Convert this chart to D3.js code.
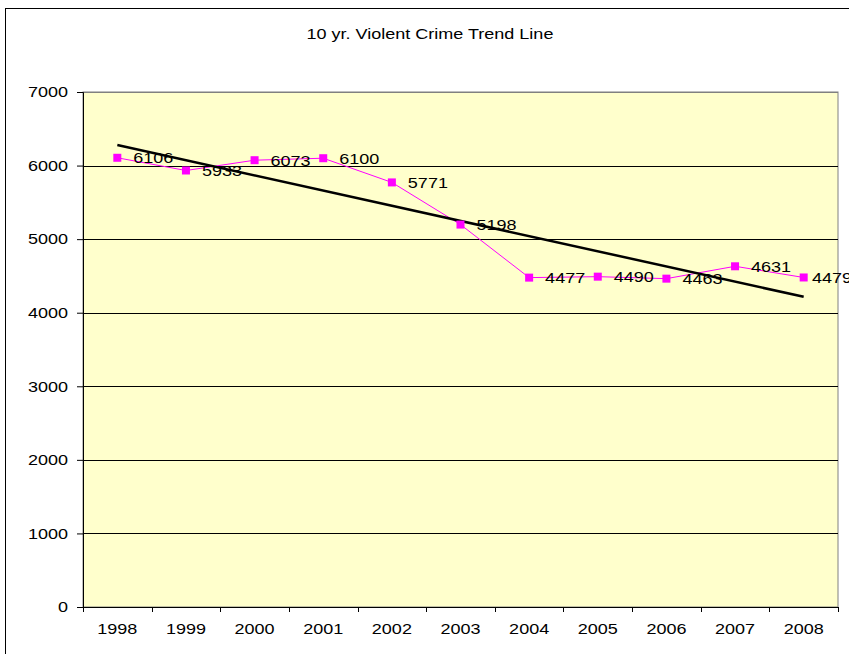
<!doctype html>
<html lang="en">
<head>
<meta charset="utf-8">
<title>10 yr. Violent Crime Trend Line</title>
<script src="https://cdn.jsdelivr.net/npm/d3@7"></script>
<style>
  body { margin: 0; background: #fff; }
  text { font-family: "Liberation Sans", Arial, sans-serif; fill: #000; font-size: 15px; }
  .tick text { font-size: 15px; }
  .domain { stroke: #000; }
  .tick line { stroke: #000; }
</style>
</head>
<body>
<div id="viz"></div>
<script>
// data
var years = ["1998", "1999", "2000", "2001", "2002", "2003", "2004", "2005", "2006", "2007", "2008"];
var crimes = [6106, 5933, 6073, 6100, 5771, 5198, 4477, 4490, 4463, 4631, 4479];
var yTicks = [0, 1000, 2000, 3000, 4000, 5000, 6000, 7000];

var w = 849, h = 654;
var margin = {top: 92, right: 11, bottom: 47, left: 83};
var width = w - margin.left - margin.right,
    height = h - margin.top - margin.bottom;

// the original font is rendered wider than Liberation Sans
function widen(sel) {
  sel.each(function() {
    var len = this.getComputedTextLength();
    d3.select(this)
      .attr("textLength", len * 1.2)
      .attr("lengthAdjust", "spacingAndGlyphs");
  });
}

var svg = d3.select("#viz").append("svg")
  .attr("width", w)
  .attr("height", h);

// outer chart border
svg.append("rect")
  .attr("x", 5.5).attr("y", 8.5)
  .attr("width", w + 10).attr("height", h + 10)
  .attr("fill", "#fff")
  .attr("stroke", "#000")
  .attr("stroke-width", 1);

svg.append("text")
  .attr("x", 430).attr("y", 39)
  .attr("text-anchor", "middle")
  .text("10 yr. Violent Crime Trend Line")
  .call(widen);

var g = svg.append("g")
  .attr("transform", "translate(" + margin.left + "," + margin.top + ")");

// SCALES
var xScale = d3.scaleBand().domain(years).range([0, width]);
var yScale = d3.scaleLinear().domain([0, 7000]).range([height, 0]);

// plot area
g.append("rect")
  .attr("width", width).attr("height", height)
  .attr("fill", "#FFFFCC")
  .attr("stroke", "#808080");

// grid
g.selectAll("line.grid")
  .data(yTicks.slice(1))
  .enter().append("line")
  .attr("class", "grid")
  .attr("x1", 0).attr("x2", width)
  .attr("y1", function(d) { return Math.round(yScale(d)) + 0.5; })
  .attr("y2", function(d) { return Math.round(yScale(d)) + 0.5; })
  .attr("stroke", function(d) { return d === 7000 ? "#808080" : "#000"; });

// AXES
var yAxis = d3.axisLeft(yScale).tickValues(yTicks).tickSize(6).tickPadding(9).tickFormat(d3.format("d"));
var yAxisG = g.append("g").call(yAxis);
yAxisG.selectAll(".tick text").call(widen);

var xAxisG = g.append("g")
  .attr("transform", "translate(0," + height + ")")
  .call(d3.axisBottom(xScale).tickSize(0));
xAxisG.select(".domain").remove();
xAxisG.selectAll(".tick text")
  .attr("y", 27).attr("dy", null)
  .call(widen);
g.append("line")
  .attr("x1", 0).attr("x2", width)
  .attr("y1", height + 0.5).attr("y2", height + 0.5)
  .attr("stroke", "#000");
// category boundary ticks
xAxisG.selectAll("line.bound")
  .data(years.concat(["end"]))
  .enter().append("line")
  .attr("class", "bound")
  .attr("x1", function(d, i) { return Math.round(i * xScale.step()) + 0.5; })
  .attr("x2", function(d, i) { return Math.round(i * xScale.step()) + 0.5; })
  .attr("y1", 0).attr("y2", 5)
  .attr("stroke", "#000");

var cx = function(d, i) { return xScale(years[i]) + xScale.bandwidth() / 2; };

// data line
var line = d3.line()
  .x(function(d, i) { return cx(d, i); })
  .y(function(d) { return yScale(d); });

g.append("path")
  .datum(crimes)
  .attr("d", line)
  .attr("fill", "none")
  .attr("stroke", "#FF00FF")
  .attr("stroke-width", 1);

// linear trend (least squares of the data)
var xs = d3.range(crimes.length);
var mx = d3.mean(xs), my = d3.mean(crimes);
var slope = d3.sum(xs, function(x, i) { return (x - mx) * (crimes[i] - my); }) /
            d3.sum(xs, function(x) { return (x - mx) * (x - mx); });
var icept = my - slope * mx;
var last = crimes.length - 1;

g.append("line")
  .attr("x1", cx(null, 0)).attr("y1", yScale(icept))
  .attr("x2", cx(null, last)).attr("y2", yScale(icept + slope * last))
  .attr("stroke", "#000")
  .attr("stroke-width", 2.5);

// markers
g.selectAll("rect.mark")
  .data(crimes)
  .enter().append("rect")
  .attr("class", "mark")
  .attr("x", function(d, i) { return cx(d, i) - 4; })
  .attr("y", function(d) { return yScale(d) - 4; })
  .attr("width", 8).attr("height", 8)
  .attr("fill", "#FF00FF");

// value labels, pushed left when they would run past the chart edge
var labelEdge = w - margin.left + 3;
g.selectAll("text.val")
  .data(crimes)
  .enter().append("text")
  .attr("class", "val")
  .attr("y", function(d) { return yScale(d) + 5.5; })
  .text(function(d) { return d; })
  .call(widen)
  .attr("x", function(d, i) {
    var tw = +d3.select(this).attr("textLength");
    return Math.min(cx(d, i) + 16, Math.max(cx(d, i) + 8, labelEdge - tw));
  });
</script>
</body>
</html>
